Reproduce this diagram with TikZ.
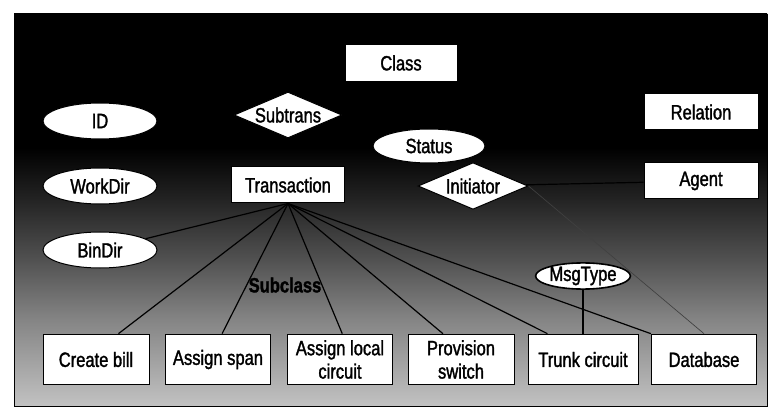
\documentclass[tikz,border=0pt]{standalone}
\usepackage{fontspec}
\setmainfont[FakeStretch=0.8,FakeBold=1.5]{Liberation Sans}
\usetikzlibrary{shapes.geometric}

\pgfdeclareverticalshading{bggrad}{100bp}{color(0bp)=(black!24); color(25bp)=(black!24); color(36bp)=(black!48); color(43.6bp)=(black!68); color(51.3bp)=(black!86); color(58bp)=(black); color(100bp)=(black)}

\tikzset{every picture/.style={line width=0.75pt}}
\tikzset{
  entbox/.style={draw, fill=white, rectangle, inner sep=1pt, align=center, font=\fontsize{15.5}{17.5}\selectfont},
  attrell/.style={draw, fill=white, ellipse, inner sep=0pt, font=\fontsize{15.5}{17.5}\selectfont},
  reldia/.style={draw, fill=white, diamond, aspect=2.35, inner sep=0pt, font=\fontsize{15.5}{17.5}\selectfont},
  link/.style={draw=black, line width=0.9pt}
}

\begin{document}
\begin{tikzpicture}[x=0.75pt,y=0.75pt,yscale=-1,xscale=1]
\useasboundingbox (0,0) rectangle (773,409);

%Shape: Background [id:bg]
\draw [shading=bggrad, draw=black, line width=0.6pt] (14,14) rectangle (767,406);

%Flowchart: Process
\node [entbox, minimum width=84pt, minimum height=28pt] (Class) at (401,63) {Class};
\node [entbox, minimum width=85pt, minimum height=27pt] (Transaction) at (288,185) {Transaction};
\node [entbox, minimum width=85.5pt, minimum height=27pt] (Relation) at (701,112) {Relation};
\node [entbox, minimum width=85.5pt, minimum height=27pt] (Agent) at (701,181) {Agent};

%Flowchart: Decision
\node [reldia, minimum width=81pt, minimum height=34.5pt] (Subtrans) at (288,115) {Subtrans};
\node [reldia, minimum width=82.5pt, minimum height=35pt] (Initiator) at (473,186) {Initiator};

%Shape: Ellipse
\node [attrell, minimum width=85.5pt, minimum height=27pt] (ID) at (100,121) {ID};
\node [attrell, minimum width=85.5pt, minimum height=27pt] (WorkDir) at (100,186) {WorkDir};
\node [attrell, minimum width=85.5pt, minimum height=27pt] (BinDir) at (100,250) {BinDir};
\node [attrell, minimum width=84pt, minimum height=25.5pt] (Status) at (429,146) {Status};
\node [attrell, minimum width=68pt, minimum height=19.5pt, line width=1.2pt] (MsgType) at (583,276) {MsgType};

%Flowchart: Process (subclasses)
\node [entbox, minimum width=79.5pt, minimum height=38pt] (CreateBill) at (96,359.5) {Create bill};
\node [entbox, minimum width=79pt, minimum height=38pt] (AssignSpan) at (218,359.5) {Assign span};
\node [entbox, minimum width=79pt, minimum height=38pt] (AssignLocal) at (340,359.5) {Assign local\\circuit};
\node [entbox, minimum width=79.5pt, minimum height=38pt] (Provision) at (461,359.5) {Provision\\switch};
\node [entbox, minimum width=82.5pt, minimum height=38pt] (Trunk) at (583,359.5) {Trunk circuit};
\node [entbox, minimum width=79pt, minimum height=38pt] (Database) at (704,359.5) {Database};

%Straight Lines
\draw [link] (Transaction.south) -- (BinDir);
\draw [link] (Transaction.south) -- (CreateBill.49);
\draw [link] (Transaction.south) -- (AssignSpan.81);
\draw [link] (Transaction.south) -- (AssignLocal.85);
\draw [link] (Transaction.south) -- (Provision.125);
\draw [link] (Transaction.south) -- (Trunk.144);
\draw [link] (Transaction.south) -- (Database.north west);
\draw [link] (MsgType) -- (Trunk);
\draw [link] (Initiator) -- (Agent);
\draw [draw=black!75, line width=0.5pt] (Initiator.east) -- (Database.north);

% Text Node
\node [font=\fontsize{15.5}{17.5}\selectfont\bfseries, text=black] (Subclass) at (285,285) {Subclass};

\end{tikzpicture}
\end{document}
